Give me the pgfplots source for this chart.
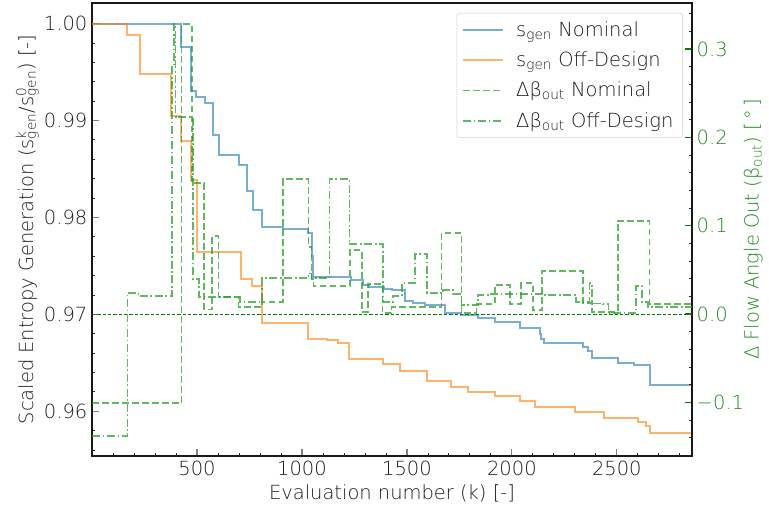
\documentclass[border=0pt]{standalone}
\usepackage{fontspec}
\IfFontExistsTF{DejaVu Sans ExtraLight}{\setmainfont{DejaVu Sans ExtraLight}}{\setmainfont{DejaVu Sans}}
\usepackage{pgfplots}
\pgfplotsset{compat=1.18}

\definecolor{tabblue}{HTML}{1F77B4}
\definecolor{taborange}{HTML}{FF7F0E}
\definecolor{tabgreen}{HTML}{2CA02C}
\definecolor{darkgreen}{RGB}{0,128,0}
\definecolor{txt}{RGB}{30,30,30}

\newcommand{\fs}{\fontsize{14.6}{17}\selectfont}
\newcommand{\sk}[1]{s\rlap{\textsuperscript{#1}}\textsubscript{gen}}

\pgfplotsset{
  twin/.style={
    scale only axis, width=450pt, height=339.75pt,
    xmin=0, xmax=2858,
    tick align=inside,
    major tick length=5pt, minor tick length=2.6pt,
    every major tick/.style={line width=0.9pt},
    every minor tick/.style={line width=0.6pt, black!85},
    /pgf/number format/assume math mode=true,
    tick label style={font=\fs, text=txt},
    label style={font=\fs, text=txt},
    axis line style={black!90, line width=1.1pt},
  },
}

\begin{document}
\begin{tikzpicture}
\begin{axis}[twin, name=ax,
  ymin=0.95538, ymax=1.00212,
  xtick pos=left, ytick pos=left,
  xtick={500,1000,1500,2000,2500},
  xticklabels={500,1000,1500,2000,2500},
  minor xtick={100,200,300,400,600,700,800,900,1100,1200,1300,1400,1600,1700,1800,1900,2100,2200,2300,2400,2600,2700,2800},
  ytick={0.96,0.97,0.98,0.99,1.00},
  yticklabels={0.96,0.97,0.98,0.99,1.00},
  minor ytick={0.956,0.958,0.962,0.964,0.966,0.968,0.972,0.974,0.976,0.978,0.982,0.984,0.986,0.988,0.992,0.994,0.996,0.998},
  xlabel={Evaluation number (k) [-]},
  ylabel={Scaled Entropy Generation (\sk{k}/\sk{0}) [-]},
  ylabel shift=-3pt,
]
% s_gen nominal
\addplot[const plot, tabblue, draw opacity=0.6, line width=1.5pt] coordinates {
(0,1.0)(424,0.99761)(473,0.99306)(497,0.99238)(537,0.99179)(575,0.98851)
(603,0.98639)(698,0.98536)(738,0.98270)(765,0.98075)(812,0.97905)(909,0.97880)
(1031,0.97840)(1047,0.97600)(1055,0.97385)(1234,0.97351)(1289,0.97300)(1321,0.97282)
(1392,0.97262)(1427,0.97248)(1491,0.97142)(1530,0.97118)(1586,0.97094)(1681,0.97015)
(1760,0.96992)(1839,0.96957)(1918,0.96920)(2040,0.96862)(2132,0.96800)(2140,0.96750)
(2151,0.96701)(2338,0.96667)(2362,0.96622)(2383,0.96554)(2504,0.96495)(2584,0.96479)
(2658,0.96270)(2858,0.96270)};
% s_gen off-design
\addplot[const plot, taborange, draw opacity=0.6, line width=1.5pt] coordinates {
(0,1.0)(168,0.9988)(228,0.99477)(378,0.99043)(426,0.98787)(472,0.98383)(500,0.97641)
(711,0.97367)(762,0.97289)(812,0.96906)(1031,0.96749)(1118,0.96735)(1174,0.96708)
(1226,0.96537)(1387,0.96492)(1467,0.96410)(1594,0.96308)(1712,0.96253)(1791,0.96195)
(1918,0.96161)(2040,0.96103)(2108,0.96048)(2303,0.95997)(2441,0.95931)(2599,0.95887)
(2640,0.95850)(2658,0.95774)(2858,0.95774)};
\end{axis}

\begin{axis}[twin,
  ymin=-0.1608, ymax=0.3522,
  axis x line=none, axis y line*=right,
  ytick={-0.1,0,0.1,0.2,0.3},
  yticklabels={−0.1,0.0,0.1,0.2,0.3},
  minor ytick={-0.16,-0.14,-0.12,-0.08,-0.06,-0.04,-0.02,0.02,0.04,0.06,0.08,0.12,0.14,0.16,0.18,0.22,0.24,0.26,0.28,0.32,0.34},
  every major tick/.style={line width=1pt, darkgreen},
  yticklabel style={text=tabgreen!85!black},
  ylabel style={text=tabgreen!85!black},
  ylabel={Δ Flow Angle Out (β\textsubscript{out}) [\,°\,]},
  ylabel shift=-7pt,
  legend cell align=left,
  legend image code/.code={\draw[#1] (0pt,0pt) -- (30pt,0pt); \path (36pt,0pt);},
  legend style={at={(0.985,0.978)}, anchor=north east, font=\fs, text=txt,
    draw=black!18, rounded corners=2pt, fill=white, fill opacity=0.8, text opacity=1,
    inner xsep=4pt, inner ysep=4.5pt, row sep=6pt,
    nodes={inner xsep=3pt}},
]
\addlegendimage{tabblue, draw opacity=0.6, line width=1.5pt}
\addlegendentry{s\textsubscript{gen} Nominal}
\addlegendimage{taborange, draw opacity=0.6, line width=1.5pt}
\addlegendentry{s\textsubscript{gen} Off-Design}
% delta beta nominal
\addplot[const plot, tabgreen, draw opacity=0.75, line width=1.3pt, dash pattern=on 5pt off 2.5pt] coordinates {
(0,-0.101)(426,0.328)(475,0.148)(535,0.005)(572,0.088)(603,0.0196)(698,0.008)
(810,0.014)(909,0.1525)(1031,0.076)(1045,0.040)(1055,0.0317)(1229,0.0725)
(1285,0.0026)(1316,0.034)(1384,0.001)(1427,0.008)(1665,0.092)(1760,0.001)
(1831,0.011)(1918,0.033)(1990,0.011)(2045,0.035)(2100,0.0045)(2145,0.049)
(2338,0.0128)(2380,0.0026)(2504,0.1057)(2655,0.0113)(2858,0.0113)};
\addlegendentry{Δβ\textsubscript{out} Nominal}
% delta beta off-design
\addplot[const plot, tabgreen, draw opacity=0.75, line width=1.3pt, dash pattern=on 6pt off 2pt on 1.2pt off 2pt] coordinates {
(0,-0.138)(169,0.0241)(221,0.0204)(381,0.280)(389,0.328)(398,0.2228)(480,0.040)
(510,0.0196)(706,0.014)(809,0.0404)(1031,0.046)(1045,0.0404)(1131,0.1525)
(1226,0.079)(1387,0.014)(1435,0.020)(1475,0.0348)(1538,0.068)(1594,0.024)
(1673,0.027)(1720,0.0226)(1760,0.010)(1839,0.0215)(1890,0.023)(2148,0.0215)
(2306,0.014)(2370,0.035)(2380,0.012)(2433,0.0113)(2460,0.0015)(2592,0.0317)
(2620,0.014)(2647,0.0083)(2858,0.0083)};
\addlegendentry{Δβ\textsubscript{out} Off-Design}
% zero line
\addplot[forget plot, darkgreen, line width=0.6pt, dash pattern=on 2.5pt off 1.5pt] coordinates {(0,0)(2858,0)};
\end{axis}

\pgfresetboundingbox
\path ([xshift=-69pt,yshift=-39.75pt]ax.south west) rectangle ([xshift=57.75pt,yshift=2.25pt]ax.north east);
\end{tikzpicture}
\end{document}
